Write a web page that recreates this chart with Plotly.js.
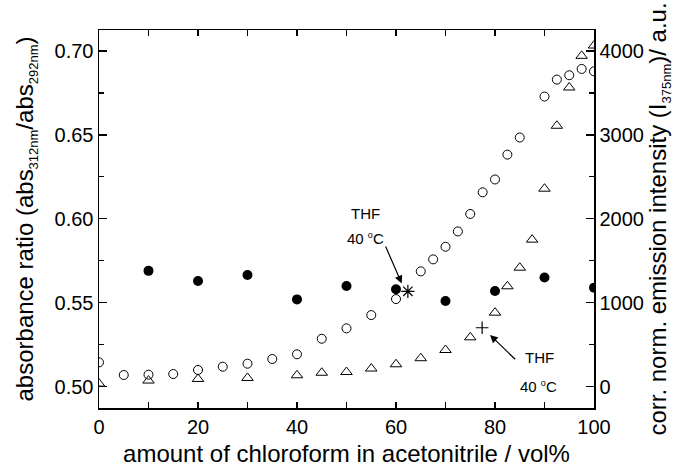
<!DOCTYPE html>
<html>
<head>
<meta charset="utf-8">
<script src="https://cdn.plot.ly/plotly-3.0.1.min.js"></script>
<style>html,body{margin:0;padding:0;background:#fff}#chart{width:678px;height:468px}</style>
</head>
<body>
<div id="chart"></div>
<script>
// Absorbance ratio (left axis), filled circles
const xAbs = [10, 20, 30, 40, 50, 60, 70, 80, 90, 100];
const absRatio = [0.569, 0.563, 0.5665, 0.552, 0.560, 0.558, 0.551, 0.557, 0.565, 0.559];

// Emission intensity (right axis), open circles
const xEmCirc = [0, 5, 10, 15, 20, 25, 30, 35, 40, 45, 50, 55, 60, 65, 67.5, 70, 72.5, 75, 77.5, 80, 82.5, 85, 90, 92.5, 95, 97.5, 100];
const emCirc = [290, 139, 143, 151, 199, 238, 274, 330, 386, 571, 695, 853, 1044, 1374, 1517, 1667, 1850, 2058, 2316, 2469, 2765, 2969, 3457, 3659, 3711, 3786, 3758];

// Emission intensity (right axis), open triangles
const xEmTri = [0, 10, 20, 30, 40, 45, 50, 55, 60, 65, 70, 75, 80, 82.5, 85, 87.5, 90, 92.5, 95, 97.5, 100];
const emTri = [37, 73, 92, 104, 136, 166, 175, 216, 267, 339, 437, 588, 882, 1196, 1418, 1752, 2359, 3109, 3565, 3942, 4065];

// THF reference points at 40 °C
const thfAbsX = [62.4];
const thfAbs = [0.5568];
const thfEmX = [77.4];
const thfEm = [702];

// Axis ranges
const xRange = [0, 100];
const yRange = [0.4873, 0.7125];
const y2Range = [-254, 4250];

const FONT = 'Liberation Sans, Arial, sans-serif';
const sub = s => '<sub><span style="font-size:13px">' + s + '</span></sub>';
const deg = '<sup><span style="font-size:9px">o</span></sup>';

const traces = [
  {x: xEmCirc, y: emCirc, yaxis: 'y2', type: 'scatter', mode: 'markers',
   marker: {symbol: 'circle-open', size: 9, color: '#000', line: {width: 1, color: '#000'}}},
  {x: xEmTri, y: emTri, yaxis: 'y2', type: 'scatter', mode: 'markers',
   marker: {symbol: 'triangle-up-open', size: 10, color: '#000', line: {width: 1, color: '#000'}}},
  {x: thfEmX, y: thfEm, yaxis: 'y2', type: 'scatter', mode: 'markers',
   marker: {symbol: 'cross-thin-open', size: 9, color: '#000', line: {width: 1.2, color: '#000'}}},
  {x: xAbs, y: absRatio, yaxis: 'y', type: 'scatter', mode: 'markers',
   marker: {symbol: 'circle', size: 10, color: '#000', line: {width: 0}}},
  {x: thfAbsX, y: thfAbs, yaxis: 'y', type: 'scatter', mode: 'markers',
   marker: {symbol: 'asterisk-open', size: 11, color: '#000', line: {width: 1.2, color: '#000'}}}
];

const axisCommon = {
  showline: true, linecolor: '#000', linewidth: 1.5,
  ticks: 'inside', tickcolor: '#000', tickwidth: 1.2,
  showgrid: false, zeroline: false,
  tickfont: {family: FONT, size: 20, color: '#000'}
};

const layout = {
  width: 678, height: 468,
  margin: {l: 99, r: 84, t: 30, b: 60, pad: 0},
  paper_bgcolor: '#fff', plot_bgcolor: '#fff',
  showlegend: false,
  font: {family: FONT, color: '#000'},
  xaxis: Object.assign({}, axisCommon, {
    range: xRange, dtick: 20, tick0: 0, ticklen: 6, mirror: 'allticks',
    minor: {dtick: 10, ticks: 'inside', ticklen: 6, tickcolor: '#000', tickwidth: 1.2, showgrid: false},
    title: {text: 'amount of chloroform in acetonitrile / vol%', font: {family: FONT, size: 24, color: '#000'}, standoff: 8}
  }),
  yaxis: Object.assign({}, axisCommon, {
    range: yRange, dtick: 0.05, tick0: 0.5, tickformat: '.2f', ticklen: 8,
    minor: {dtick: 0.025, ticks: 'inside', ticklen: 5, tickcolor: '#000', tickwidth: 1.2, showgrid: false},
    title: {text: 'absorbance ratio (abs' + sub('312nm') + '/abs' + sub('292nm') + ')', font: {family: FONT, size: 24, color: '#000'}, standoff: 14}
  }),
  yaxis2: Object.assign({}, axisCommon, {
    range: y2Range, dtick: 1000, tick0: 0, ticklen: 8, overlaying: 'y', side: 'right',
    minor: {dtick: 500, ticks: 'inside', ticklen: 5, tickcolor: '#000', tickwidth: 1.2, showgrid: false},
    title: {text: 'corr. norm. emission intensity (I' + sub('375nm') + ')/ a.u.', font: {family: FONT, size: 24, color: '#000'}, standoff: 4}
  }),
  annotations: [
    {x: 53.9, y: 0.6034, xref: 'x', yref: 'y', text: 'THF', showarrow: false, font: {family: FONT, size: 15, color: '#000'}},
    {x: 53.8, y: 0.5885, xref: 'x', yref: 'y', text: '40 ' + deg + 'C', showarrow: false, font: {family: FONT, size: 15, color: '#000'}},
    {x: 61.15, y: 0.5615, ax: 57.78, ay: 0.5844, xref: 'x', yref: 'y', axref: 'x', ayref: 'y', text: '', showarrow: true, arrowhead: 2, arrowsize: 1.3, arrowwidth: 1.2, arrowcolor: '#000'},
    {x: 88.9, y: 0.5171, xref: 'x', yref: 'y', text: 'THF', showarrow: false, font: {family: FONT, size: 15, color: '#000'}},
    {x: 88.7, y: 0.5004, xref: 'x', yref: 'y', text: '40 ' + deg + 'C', showarrow: false, font: {family: FONT, size: 15, color: '#000'}},
    {x: 79.0, y: 0.5308, ax: 84.38, ay: 0.5155, xref: 'x', yref: 'y', axref: 'x', ayref: 'y', text: '', showarrow: true, arrowhead: 2, arrowsize: 1.3, arrowwidth: 1.2, arrowcolor: '#000'}
  ]
};

Plotly.newPlot('chart', traces, layout, {staticPlot: true, displayModeBar: false});
</script>
</body>
</html>
